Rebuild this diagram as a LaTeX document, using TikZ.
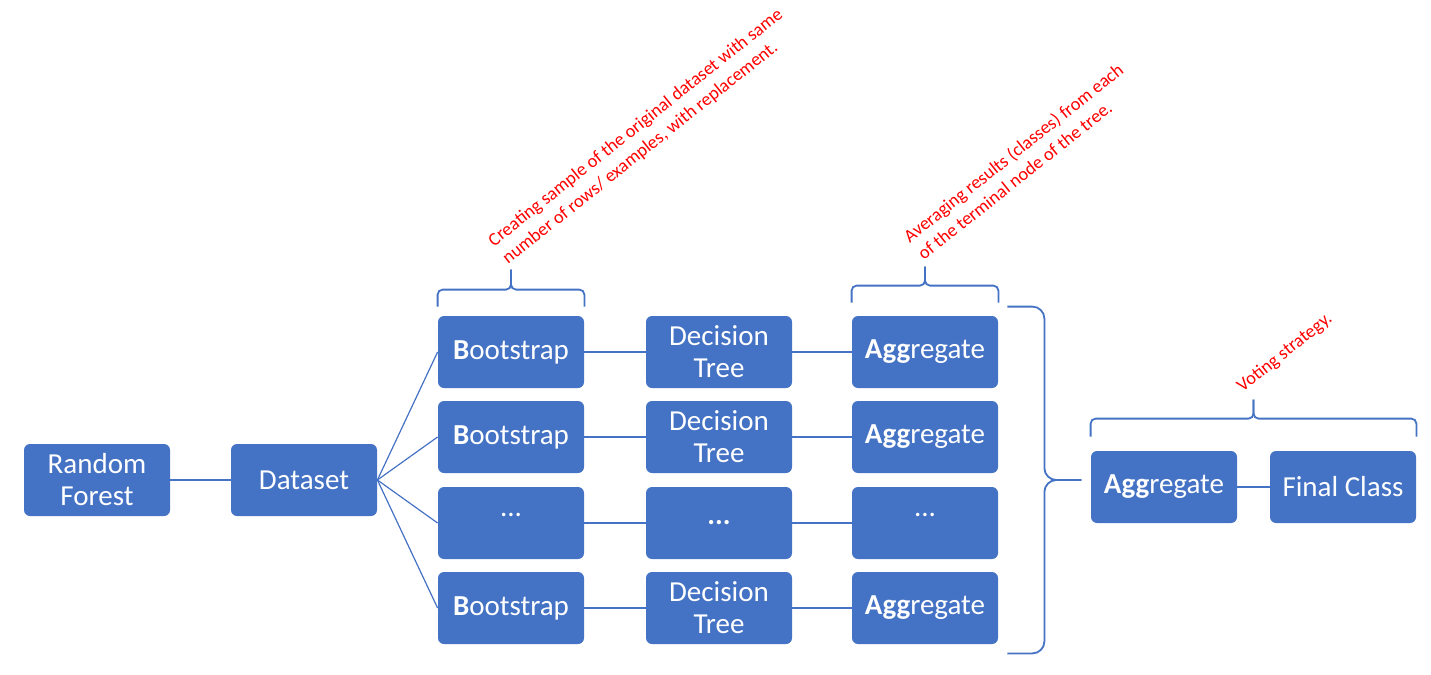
\documentclass[tikz,border=0pt]{standalone}
\usepackage{fontspec}
\setmainfont{Carlito}
\usepackage{xcolor}
\definecolor{officeblue}{RGB}{68, 114, 196}
\definecolor{notered}{RGB}{255, 0, 0}
\usepackage{tikz}
\usetikzlibrary{positioning,calc}

\begin{document}
\begin{tikzpicture}[x=0.5pt, y=-0.5pt,
    box/.style={rectangle, rounded corners=3pt, fill=officeblue, text=white, minimum width=73pt, minimum height=36pt, inner sep=2pt, align=center, font=\fontsize{14.5}{16}\selectfont},
    link/.style={draw=officeblue, line width=0.6pt},
    bracket/.style={draw=officeblue, line width=0.9pt, rounded corners=2.5pt},
    note/.style={text=notered, rotate=38.5, anchor=south west, inner sep=0pt, align=left, font=\fontsize{9.2}{11.3}\selectfont}]
    \useasboundingbox (0,0) rectangle (1431,675);

    \node[box] (forest) at (97,480) {Random\\Forest};
    \node[box] (data) at (304,480) {Dataset};

    \node[box] (boot1) at (511,352) {\textbf{B}ootstrap};
    \node[box] (tree1) at (719,352) {Decision\\Tree};
    \node[box] (agg1) at (925,352) {\textbf{Agg}regate};

    \node[box] (boot2) at (511,437) {\textbf{B}ootstrap};
    \node[box] (tree2) at (719,437) {Decision\\Tree};
    \node[box] (agg2) at (925,437) {\textbf{Agg}regate};

    \node[box] (boot3) at (511,523) {\raisebox{8pt}{...}};
    \node[box] (tree3) at (719,523) {\textbf{...}};
    \node[box] (agg3) at (925,523) {\raisebox{8pt}{...}};

    \node[box] (boot4) at (511,608) {\textbf{B}ootstrap};
    \node[box] (tree4) at (719,608) {Decision\\Tree};
    \node[box] (agg4) at (925,608) {\textbf{Agg}regate};

    \node[box] (vote) at (1164,487) {\textbf{Agg}regate};
    \node[box] (final) at (1343,487) {Final Class};

    % Links
    \draw[link] (forest) -- (data);
    \foreach \i in {1,...,4} {
        \draw[link] (data.east) -- (boot\i.west);
        \draw[link] (boot\i) -- (tree\i);
        \draw[link] (tree\i) -- (agg\i);
    }
    \draw[link] (vote) -- (final);

    % Braces over the columns
    \draw[bracket] ($(boot1.north west)+(0,-9)$) |- ($(boot1.north)+(0,-26)$) -- ($(boot1.north)+(0,-46)$);
    \draw[bracket] ($(boot1.north east)+(0,-9)$) |- ($(boot1.north)+(0,-26)$) -- ($(boot1.north)+(0,-46)$) coordinate (bootTip);

    \draw[bracket] ($(agg1.north west)+(0,-13)$) |- ($(agg1.north)+(0,-30)$) -- ($(agg1.north)+(0,-49)$);
    \draw[bracket] ($(agg1.north east)+(0,-13)$) |- ($(agg1.north)+(0,-30)$) -- ($(agg1.north)+(0,-49)$) coordinate (aggTip);

    \coordinate (voteMid) at ($(vote.north west)!0.5!(final.north east)$);
    \draw[bracket] ($(vote.north west)+(0,-14)$) |- ($(voteMid)+(0,-32)$) -- ($(voteMid)+(0,-51)$);
    \draw[bracket] ($(final.north east)+(0,-14)$) |- ($(voteMid)+(0,-32)$) -- ($(voteMid)+(0,-51)$) coordinate (voteTip);

    % Big brace round the aggregates
    \coordinate (aggMid) at ($(agg1.north east)!0.5!(agg4.south east)$);
    \draw[bracket, rounded corners=6pt] ($(agg1.north east)+(9,-9)$) -| ($(aggMid)+(46,0)$) -- ($(aggMid)+(83,0)$);
    \draw[bracket, rounded corners=6pt] ($(agg4.south east)+(9,9)$) -| ($(aggMid)+(46,0)$) -- ($(aggMid)+(83,0)$);

    % Notes
    \node[note] at ($(bootTip)+(-1,-2)$) {Creating sample of the original dataset with same\\number of rows/ examples, with replacement.};
    \node[note] at ($(aggTip)+(-1,-5)$) {Averaging results (classes) from each\\of the terminal node of the tree.};
    \node[note] at ($(voteTip)+(-9,-4)$) {Voting strategy.};
\end{tikzpicture}
\end{document}
